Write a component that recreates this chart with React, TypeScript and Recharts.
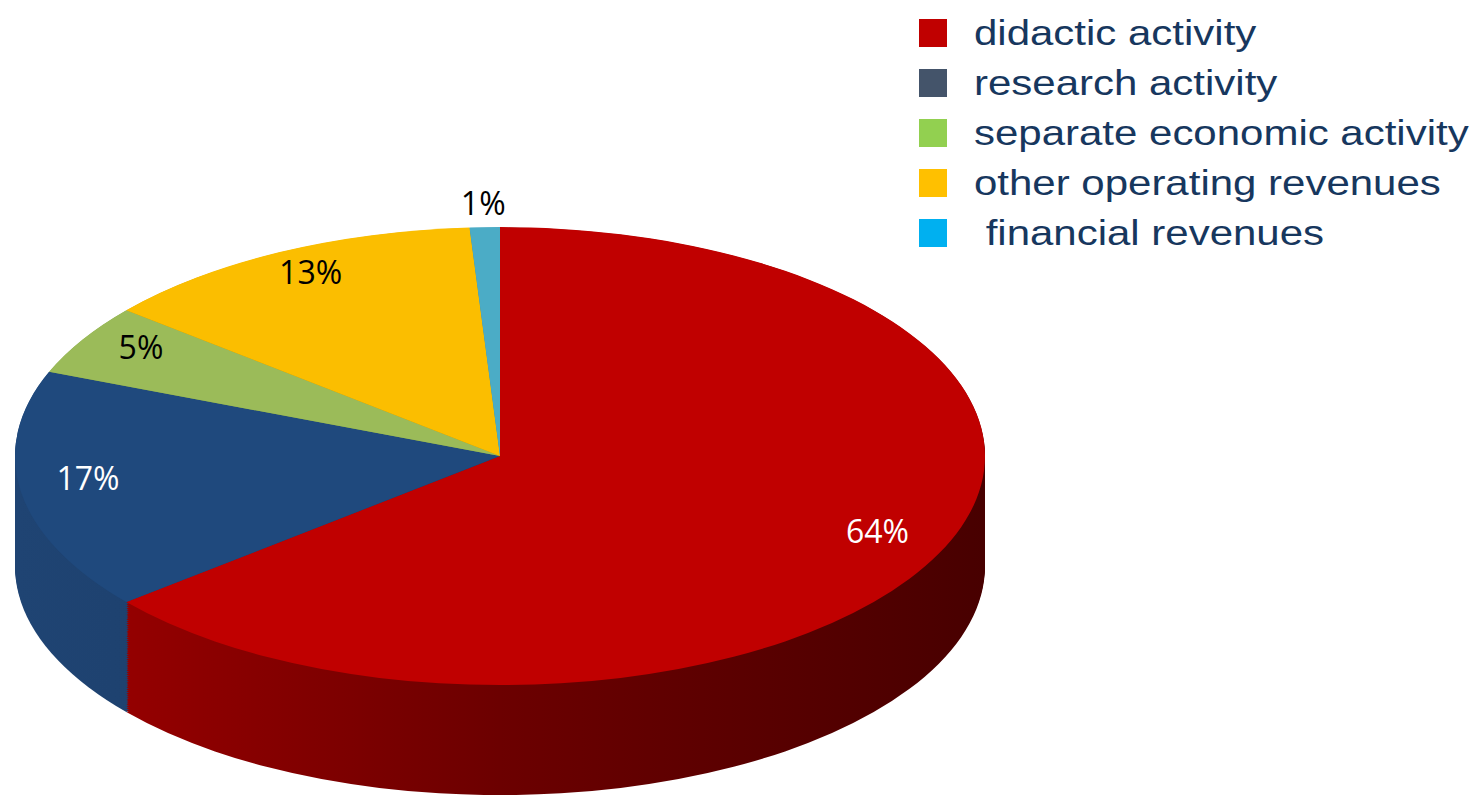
import React from "react";
import { PieChart, Pie, Cell } from "recharts";

const categories = [
  "didactic activity",
  "research activity",
  "separate economic activity",
  "other operating revenues",
  " financial revenues",
];
const shares = [64, 17, 5, 13, 1];
const topColors = ["#C00000", "#1F497D", "#9BBB59", "#FBBE00", "#4BACC6"];
const sideColors = ["url(#sideRed)", "url(#sideBlue)", "#7A9A40", "#C99600", "#3A8BA2"];
const legendColors = ["#C00000", "#44546A", "#92D050", "#FFC000", "#00B0F0"];
const labelColors = ["#FFFFFF", "#FFFFFF", "#000000", "#000000", "#000000"];

const data = categories.map((name, i) => ({ name, value: shares[i] }));

// vertical squash that turns the round pie into a tilted ellipse
const S = 229 / 485;
const CX = 500;
const CY = 966;
const R = 485;
const DEPTH = 233;
const RAD = Math.PI / 180;

const layers: number[] = [];
for (let d = DEPTH; d > 0; d -= 4) layers.push(d);

function renderLabel(props: any) {
  const { cx, cy, midAngle, outerRadius, index, value } = props;
  const outside = index === 4;
  const k = outside ? 1.1 : 0.86;
  const x = cx + outerRadius * k * Math.cos(-midAngle * RAD);
  const y = cy + outerRadius * k * Math.sin(-midAngle * RAD) - (outside ? 4 : 20);
  return (
    <g transform={`translate(${x},${y}) scale(1,${1 / S})`}>
      <text
        x={0}
        y={0}
        textAnchor="middle"
        dominantBaseline="central"
        fill={labelColors[index]}
        fontSize={32}
        fontFamily="'Open Sans', sans-serif"
      >
        {value}%
      </text>
    </g>
  );
}

export default function App() {
  return (
    <div
      style={{
        position: "absolute",
        left: 0,
        top: 0,
        width: 1482,
        height: 795,
        overflow: "hidden",
        background: "#fff",
      }}
    >
      <div
        style={{
          position: "absolute",
          left: 0,
          top: 0,
          width: 1000,
          height: 1700,
          transform: `scaleY(${S})`,
          transformOrigin: "0 0",
        }}
      >
        <PieChart width={1000} height={1700} margin={{ top: 0, right: 0, bottom: 0, left: 0 }}>
          <defs>
            <linearGradient id="sideRed" gradientUnits="userSpaceOnUse" x1={15} y1={0} x2={985} y2={0}>
              <stop offset="0%" stopColor="#A00000" />
              <stop offset="50%" stopColor="#6C0000" />
              <stop offset="100%" stopColor="#480000" />
            </linearGradient>
            <linearGradient id="sideBlue" gradientUnits="userSpaceOnUse" x1={15} y1={0} x2={500} y2={0}>
              <stop offset="0%" stopColor="#1F4473" />
              <stop offset="100%" stopColor="#1A3A64" />
            </linearGradient>
          </defs>
          {layers.map((d) => (
            <Pie
              key={`side-${d}`}
              data={data}
              dataKey="value"
              cx={CX}
              cy={CY + d}
              outerRadius={R}
              startAngle={90}
              endAngle={-270}
              stroke="none"
              isAnimationActive={false}
              label={false}
              labelLine={false}
            >
              {data.map((_, i) => (
                <Cell key={i} fill={sideColors[i]} />
              ))}
            </Pie>
          ))}
          <Pie
            data={data}
            dataKey="value"
            cx={CX}
            cy={CY}
            outerRadius={R}
            startAngle={90}
            endAngle={-270}
            stroke="none"
            isAnimationActive={false}
            label={renderLabel}
            labelLine={false}
          >
            {data.map((_, i) => (
              <Cell key={i} fill={topColors[i]} />
            ))}
          </Pie>
        </PieChart>
      </div>
      <svg
        width={582}
        height={270}
        style={{ position: "absolute", left: 900, top: 0 }}
      >
        {categories.map((c, i) => (
          <g key={c}>
            <rect x={19} y={19 + i * 50} width={28} height={28} fill={legendColors[i]} />
            <g transform={`translate(74,${45 + i * 50}) scale(1.2,1)`}>
              <text
                x={0}
                y={0}
                fontSize={35}
                fill="#17375E"
                fontFamily="'Liberation Sans', Arial, sans-serif"
                style={{ whiteSpace: "pre" }}
              >
                {c}
              </text>
            </g>
          </g>
        ))}
      </svg>
    </div>
  );
}
